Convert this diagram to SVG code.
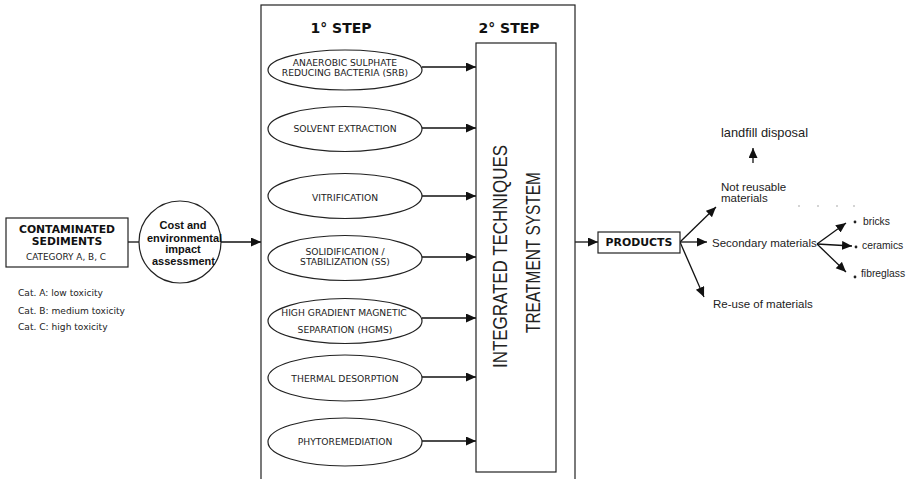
<svg xmlns="http://www.w3.org/2000/svg" width="909" height="479" viewBox="0 0 909 479">
<style>
.ln{stroke:#111;stroke-width:1.3;fill:none}
.shape{stroke:#222;stroke-width:1.2;fill:#fff}
.t{font-family:"Liberation Sans",Arial,sans-serif;fill:#222}
.d{font-family:"DejaVu Sans","Liberation Sans",sans-serif;fill:#222}
.b{font-family:"DejaVu Sans","Liberation Sans",sans-serif;font-weight:bold;fill:#111}
.ell{font-family:"DejaVu Sans","Liberation Sans",sans-serif;font-size:9.2px;fill:#222;text-anchor:middle}
.arr{marker-end:url(#ah)}
</style>
<defs>
<marker id="ah" markerUnits="userSpaceOnUse" markerWidth="11" markerHeight="10" refX="10" refY="4.5" orient="auto">
<path d="M0,0 L10,4.5 L0,9 z" fill="#111"/>
</marker>
</defs>
<rect width="909" height="479" fill="#fff"/>

<g id="connectors">
<line class="ln" x1="128" y1="242" x2="139" y2="242"/>
<line class="ln arr" x1="221" y1="242" x2="261" y2="242"/>
<line class="ln arr" x1="422" y1="67" x2="476" y2="67"/>
<line class="ln arr" x1="422" y1="128" x2="476" y2="128"/>
<line class="ln arr" x1="422" y1="196" x2="476" y2="196"/>
<line class="ln arr" x1="422" y1="257" x2="476" y2="257"/>
<line class="ln arr" x1="422" y1="318" x2="476" y2="318"/>
<line class="ln arr" x1="422" y1="377" x2="476" y2="377"/>
<line class="ln arr" x1="422" y1="441" x2="476" y2="441"/>
<line class="ln arr" x1="575" y1="242" x2="598" y2="242"/>
<line class="ln arr" x1="680" y1="242" x2="716" y2="207"/>
<line class="ln arr" x1="680" y1="242" x2="707" y2="242"/>
<line class="ln arr" x1="680" y1="242" x2="704" y2="297"/>
<line class="ln arr" x1="753" y1="163" x2="753" y2="148"/>
<line class="ln arr" x1="817" y1="244" x2="846" y2="223"/>
<line class="ln arr" x1="817" y1="244" x2="852" y2="246"/>
<line class="ln arr" x1="817" y1="244" x2="846" y2="272"/>
</g>

<g id="sediments">
<rect class="shape" x="6" y="218" width="122" height="49"/>
<text class="b" x="67" y="233" font-size="10.8" text-anchor="middle">CONTAMINATED</text>
<text class="b" x="67" y="245" font-size="10.8" text-anchor="middle">SEDIMENTS</text>
<text class="d" x="66" y="260" font-size="8.9" text-anchor="middle">CATEGORY A, B, C</text>
</g>

<g id="categories">
<text class="d" x="18" y="296" font-size="9.1">Cat. A: low toxicity</text>
<text class="d" x="18" y="314" font-size="9.1">Cat. B: medium toxicity</text>
<text class="d" x="18" y="330" font-size="9.1">Cat. C: high toxicity</text>
</g>

<g id="assessment">
<circle class="shape" cx="180" cy="242" r="41"/>
<g font-family="Liberation Sans,Arial,sans-serif" font-weight="bold" font-size="11" fill="#111" text-anchor="middle">
<text x="183" y="229">Cost and</text>
<text x="184.5" y="242">environmental</text>
<text x="183" y="253">impact</text>
<text x="183.5" y="265">assessment</text>
</g>
</g>

<g id="main-frame">
<rect x="261" y="5" width="314" height="480" fill="none" stroke="#222" stroke-width="1.2"/>
<text class="b" x="341" y="33" font-size="14" text-anchor="middle">1° STEP</text>
<text class="b" x="509" y="33" font-size="14" text-anchor="middle">2° STEP</text>
</g>

<g id="srb">
<ellipse class="shape" cx="345" cy="70" rx="77" ry="20"/>
<text class="ell" x="345" y="66">ANAEROBIC SULPHATE</text>
<text class="ell" x="345" y="76">REDUCING BACTERIA (SRB)</text>
</g>
<g id="solvent">
<ellipse class="shape" cx="345" cy="129" rx="77" ry="22.5"/>
<text class="ell" x="345" y="132">SOLVENT EXTRACTION</text>
</g>
<g id="vitrification">
<ellipse class="shape" cx="345" cy="196" rx="77" ry="22.5"/>
<text class="ell" x="345" y="201">VITRIFICATION</text>
</g>
<g id="ss">
<ellipse class="shape" cx="345" cy="258" rx="77" ry="22.5"/>
<text class="ell" x="345" y="255">SOLIDIFICATION  /</text>
<text class="ell" x="345" y="265">STABILIZATION (SS)</text>
</g>
<g id="hgms">
<ellipse class="shape" cx="345" cy="321" rx="77" ry="22.5"/>
<text class="ell" x="344" y="316">HIGH GRADIENT MAGNETIC</text>
<text class="ell" x="345" y="333">SEPARATION (HGMS)</text>
</g>
<g id="thermal">
<ellipse class="shape" cx="345" cy="378" rx="77" ry="23"/>
<text class="ell" x="345" y="382">THERMAL DESORPTION</text>
</g>
<g id="phyto">
<ellipse class="shape" cx="345" cy="442" rx="77" ry="24"/>
<text class="ell" x="345" y="445">PHYTOREMEDIATION</text>
</g>

<g id="treatment">
<rect class="shape" x="476" y="43" width="80" height="429"/>
<text class="t" transform="translate(507,368) rotate(-90)" font-size="19.5" textLength="223" lengthAdjust="spacingAndGlyphs">INTEGRATED TECHNIQUES</text>
<text class="t" transform="translate(540,333) rotate(-90)" font-size="19.5" textLength="161" lengthAdjust="spacingAndGlyphs">TREATMENT SYSTEM</text>
</g>

<g id="products">
<rect class="shape" x="598" y="232" width="82" height="21"/>
<text class="b" x="639" y="246" font-size="10.9" text-anchor="middle">PRODUCTS</text>
</g>

<g id="landfill">
<text class="t" x="721" y="137" font-size="13" textLength="87" lengthAdjust="spacingAndGlyphs">landfill disposal</text>
</g>
<g id="not-reusable">
<text class="t" x="721" y="191" font-size="11.5">Not reusable</text>
<text class="t" x="721" y="202" font-size="11.5">materials</text>
</g>
<g id="dots" fill="#888">
<circle cx="799" cy="206" r="0.7"/>
<circle cx="818" cy="206" r="0.7"/>
<circle cx="837" cy="206" r="0.7"/>
<circle cx="854" cy="206" r="0.7"/>
</g>
<g id="secondary">
<text class="t" x="712" y="247" font-size="11.5">Secondary materials</text>
</g>
<g id="bricks">
<circle cx="855" cy="222" r="1.4" fill="#222"/>
<text class="t" x="863" y="225" font-size="10.3">bricks</text>
</g>
<g id="ceramics">
<circle cx="856" cy="247" r="1.4" fill="#222"/>
<text class="t" x="862" y="249" font-size="10.3">ceramics</text>
</g>
<g id="fibreglass">
<circle cx="855" cy="277" r="1.4" fill="#222"/>
<text class="t" x="861" y="277" font-size="10.3">fibreglass</text>
</g>
<g id="reuse">
<text class="t" x="713" y="308" font-size="11.5">Re-use of materials</text>
</g>
</svg>
